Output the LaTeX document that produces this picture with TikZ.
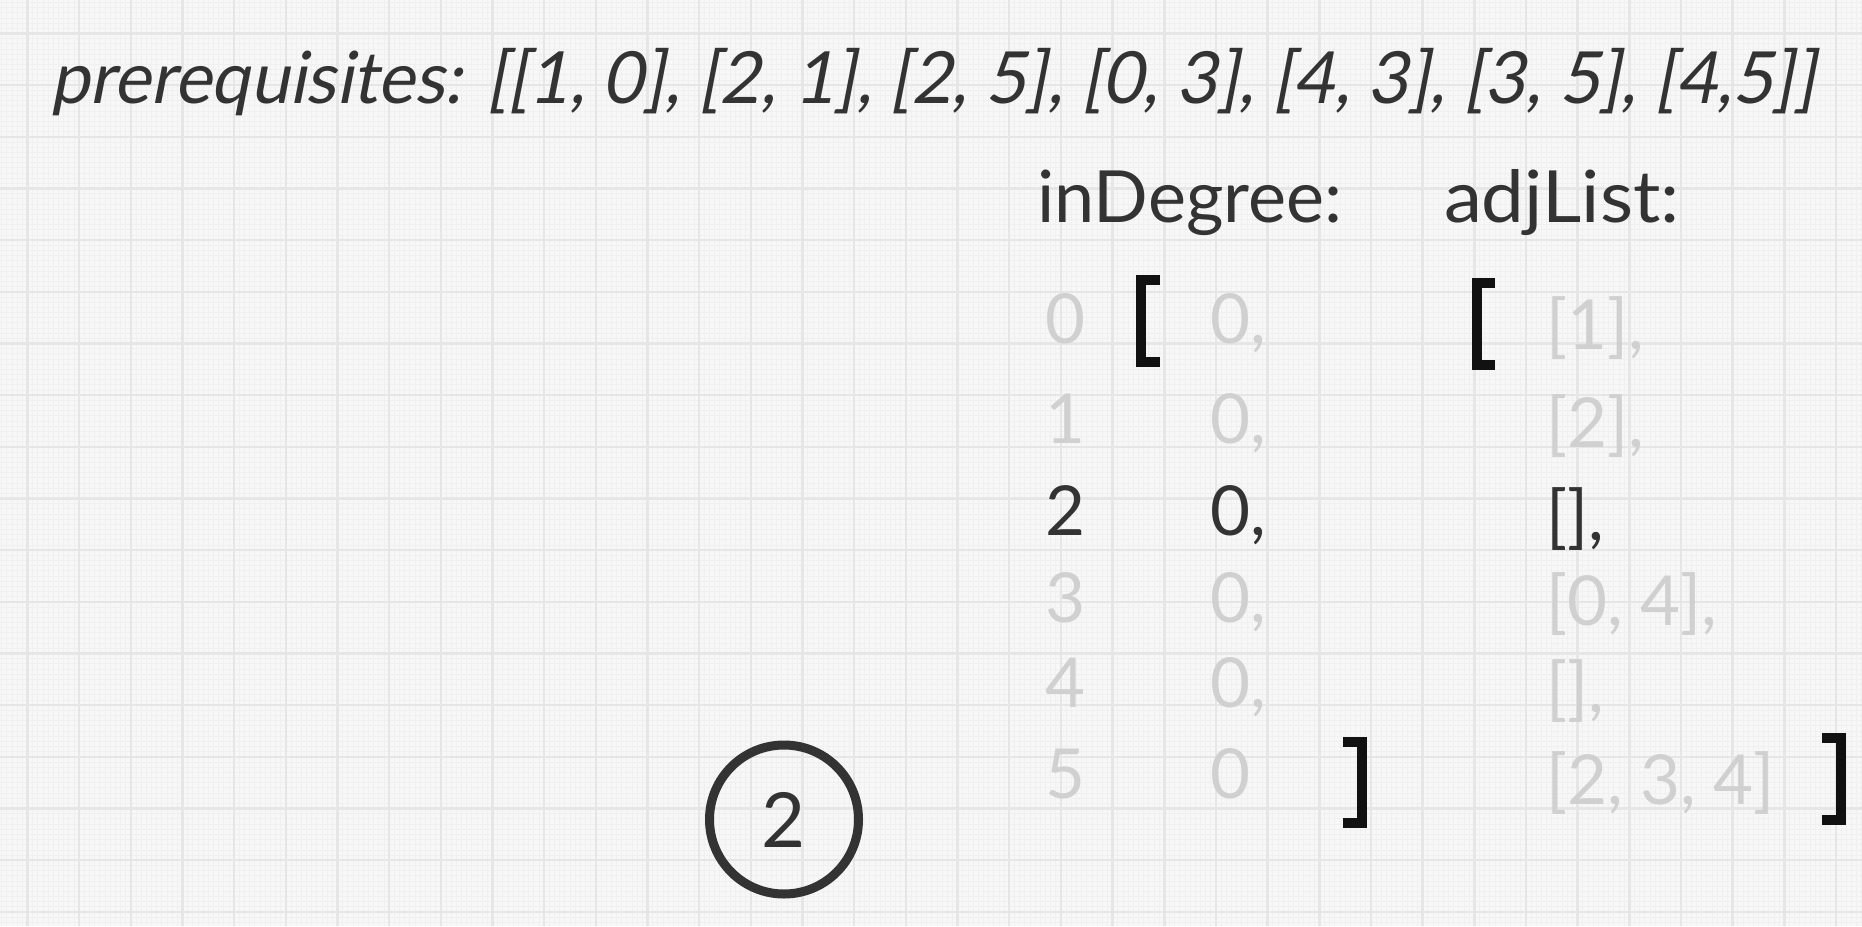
\documentclass[tikz,border=0pt]{standalone}
\usepackage{fontspec}
\setmainfont{Lato}
\newfontfamily\oblfont[FakeSlant=0.2]{Lato}
\definecolor{ink}{HTML}{333333}
\definecolor{faded}{HTML}{D0D0D0}
\definecolor{brk}{HTML}{111111}
\definecolor{bg}{HTML}{F7F7F7}
\definecolor{gridmaj}{HTML}{E6E6E6}
\definecolor{gridmin}{HTML}{F0F0F0}
\begin{document}
\begin{tikzpicture}[x=1pt,y=-1pt,
  txt/.style={inner sep=0pt, outer sep=0pt, font=\fontsize{69}{80}\selectfont, text=ink},
  dim/.style={txt, text=faded},
  hdr/.style={txt, font=\fontsize{72}{86}\selectfont},
  brack/.style={draw=brk, line width=10pt, line cap=butt, line join=miter},
  minorline/.style={draw=gridmin, line width=0.8pt},
  majorline/.style={draw=gridmaj, line width=2.5pt},
]
\fill[bg] (0,0) rectangle (1862,926);
\useasboundingbox (0,0) rectangle (1862,926);
\begin{scope}
\clip (0,0) rectangle (1862,926);
\foreach \i in {0,...,360} { \path[minorline] ({1.67+\i*5.167},0) -- ++(0,926); }
\foreach \i in {0,...,179} { \path[minorline] (0,{2.5+\i*5.167}) -- ++(1862,0); }
\foreach \i in {0,...,35} { \path[majorline] ({27.5+\i*51.67},0) -- ++(0,926); }
\foreach \i in {0,...,17} { \path[majorline] (0,{33.5+\i*51.67}) -- ++(1862,0); }
\end{scope}

% title
\node[txt, anchor=base west, font=\oblfont\fontsize{72}{86}\selectfont] (title) at (50,103)
  {\scalebox{0.97}[1]{prerequisites: [[1, 0], [2, 1], [2, 5], [0, 3], [4, 3], [3, 5], [4,5]]}};

% headers
\node[hdr, anchor=base west] (hdeg) at (1037,222) {inDegree:};
\node[hdr, anchor=base west] (hadj) at (1444,222) {\scalebox{1.06}[1]{adjList:}};

% index column
\node[dim, anchor=base] (i0) at (1065,343) {0};
\node[dim, anchor=base] (i1) at (1065,443) {1};
\node[txt, anchor=base] (i2) at (1065,535) {2};
\node[dim, anchor=base] (i3) at (1065,622) {3};
\node[dim, anchor=base] (i4) at (1065,707) {4};
\node[dim, anchor=base] (i5) at (1065,798) {5};

% inDegree values
\node[dim, anchor=base west] (v0) at (1210,343) {0,};
\node[dim, anchor=base west] (v1) at (1210,443) {0,};
\node[txt, anchor=base west] (v2) at (1210,535) {0,};
\node[dim, anchor=base west] (v3) at (1210,622) {0,};
\node[dim, anchor=base west] (v4) at (1210,707) {0,};
\node[dim, anchor=base west] (v5) at (1210,798) {0};

% adjList values
\node[dim, anchor=base west] (a0) at (1546,349) {[1],};
\node[dim, anchor=base west] (a1) at (1546,447) {[2],};
\node[txt, anchor=base west] (a2) at (1546,540) {[],};
\node[dim, anchor=base west] (a3) at (1546,625) {[0, 4],};
\node[dim, anchor=base west] (a4) at (1546,712) {[],};
\node[dim, anchor=base west] (a5) at (1546,804) {[2, 3, 4]};

% big brackets
\path[brack] (1160,280) -- (1141,280) -- (1141,362) -- (1160,362);
\path[brack] (1343,742) -- (1362,742) -- (1362,823) -- (1343,823);
\path[brack] (1495,283) -- (1477,283) -- (1477,365) -- (1495,365);
\path[brack] (1822,738) -- (1841,738) -- (1841,820) -- (1822,820);

% current node
\node[draw=ink, line width=9pt, circle, minimum size=149pt, inner sep=0pt,
      text=ink, font=\fontsize{76}{90}\selectfont] (cur) at (784,819.5) {2};
\end{tikzpicture}
\end{document}
